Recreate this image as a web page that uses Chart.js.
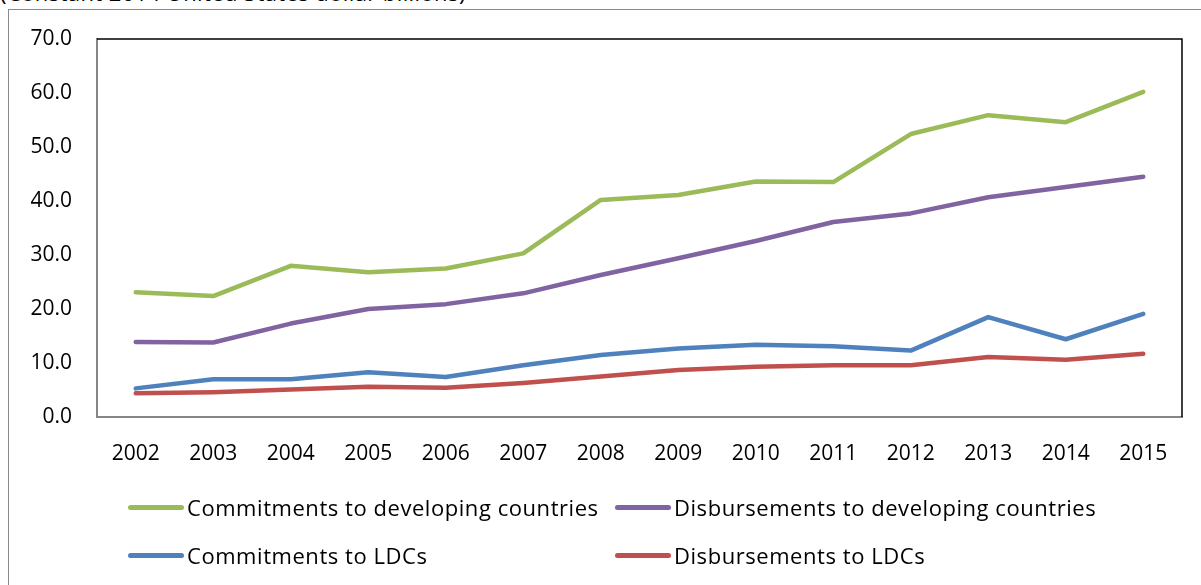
<!DOCTYPE html>
<html>
<head>
<meta charset="utf-8">
<script src="https://cdn.jsdelivr.net/npm/chart.js@4"></script>
<style>
  body { margin: 0; background: #fff; font-family: "Open Sans", sans-serif; }
  #wrap { position: relative; width: 1201px; height: 585px; overflow: hidden; }
  #frame { position: absolute; left: 8px; top: 9px; width: 1200px; height: 580px;
           border-left: 1px solid #8a8a8a; border-top: 1px solid #8a8a8a; }
  #title { position: absolute; left: 0; top: -19px; font-size: 22px; line-height: 22px; white-space: nowrap; letter-spacing: 0.4px; }
  canvas { position: absolute; left: 0; top: 0; }
  #legend { position: absolute; left: 128px; top: 492px; display: grid;
            grid-template-columns: 487px auto; row-gap: 18px; font-size: 22px; letter-spacing: 0.55px; }
  .item { display: flex; align-items: center; height: 30px; white-space: nowrap; }
  .swatch { width: 56px; height: 5px; border-radius: 3px; margin-right: 3px; }
</style>
</head>
<body>
<div id="wrap">
  <div id="title">(Constant 2014 United States dollar billions)</div>
  <div id="frame"></div>
  <canvas id="aidChart" width="1201" height="585"></canvas>
  <div id="legend"></div>
</div>
<script>
const years = ['2002', '2003', '2004', '2005', '2006', '2007', '2008', '2009', '2010', '2011', '2012', '2013', '2014', '2015'];
const commitDeveloping = [23.1, 22.4, 28.0, 26.8, 27.5, 30.3, 40.2, 41.1, 43.6, 43.5, 52.4, 55.9, 54.6, 60.2];
const disburseDeveloping = [13.9, 13.8, 17.3, 20.0, 20.9, 22.9, 26.3, 29.4, 32.6, 36.1, 37.7, 40.7, 42.6, 44.5];
const commitLDC = [5.3, 7.0, 7.0, 8.3, 7.4, 9.6, 11.5, 12.7, 13.4, 13.1, 12.3, 18.5, 14.4, 19.1];
const disburseLDC = [4.4, 4.6, 5.1, 5.6, 5.4, 6.3, 7.5, 8.7, 9.3, 9.6, 9.6, 11.1, 10.6, 11.7];
const seriesLabels = ['Commitments to developing countries', 'Disbursements to developing countries',
                      'Commitments to LDCs', 'Disbursements to LDCs'];
const seriesColors = ['#9bbb59', '#8064a2', '#4f81bd', '#c0504d'];

// black frame on the top and right of the plot area
const plotBorder = {
    id: 'plotBorder',
    beforeDatasetsDraw(chart) {
        const { ctx, chartArea: a } = chart;
        ctx.save();
        ctx.strokeStyle = '#000';
        ctx.lineWidth = 1.5;
        ctx.beginPath();
        ctx.moveTo(a.left, a.top);
        ctx.lineTo(a.right, a.top);
        ctx.lineTo(a.right, a.bottom);
        ctx.stroke();
        ctx.restore();
    }
};

const allSeries = [commitDeveloping, disburseDeveloping, commitLDC, disburseLDC];
const datasets = allSeries.map((data, i) => ({
    label: seriesLabels[i],
    data: data,
    borderColor: seriesColors[i],
    backgroundColor: seriesColors[i],
    borderWidth: 4.5,
    pointRadius: 0,
    borderCapStyle: 'round',
    borderJoinStyle: 'round',
    tension: 0,
    fill: false
}));

Chart.defaults.font.family = '"Open Sans", sans-serif';
Chart.defaults.font.size = 21;
Chart.defaults.color = '#000';

new Chart(document.getElementById('aidChart'), {
    type: 'line',
    data: { labels: years, datasets: datasets },
    plugins: [plotBorder],
    options: {
        responsive: false,
        devicePixelRatio: 1,
        animation: false,
        layout: { padding: { left: 0, top: 39, right: 19, bottom: 0 } },
        plugins: { legend: { display: false }, tooltip: { enabled: false } },
        scales: {
            x: {
                offset: true,
                grid: { display: true, drawOnChartArea: false, drawTicks: false },
                border: { color: '#868686', width: 2 },
                ticks: { padding: 24 },
                afterFit: s => { s.height = 168; }
            },
            y: {
                min: 0,
                max: 70,
                grid: { display: true, drawOnChartArea: false, drawTicks: false },
                border: { color: '#868686', width: 2 },
                ticks: { stepSize: 10, padding: 25, callback: v => v.toFixed(1) },
                afterFit: s => { s.width = 97; }
            }
        }
    }
});

// legend in two fixed columns, like the source
const legend = document.getElementById('legend');
seriesLabels.forEach((label, i) => {
    const item = document.createElement('div');
    item.className = 'item';
    const sw = document.createElement('span');
    sw.className = 'swatch';
    sw.style.background = seriesColors[i];
    item.appendChild(sw);
    item.appendChild(document.createTextNode(label));
    legend.appendChild(item);
});
</script>
</body>
</html>
